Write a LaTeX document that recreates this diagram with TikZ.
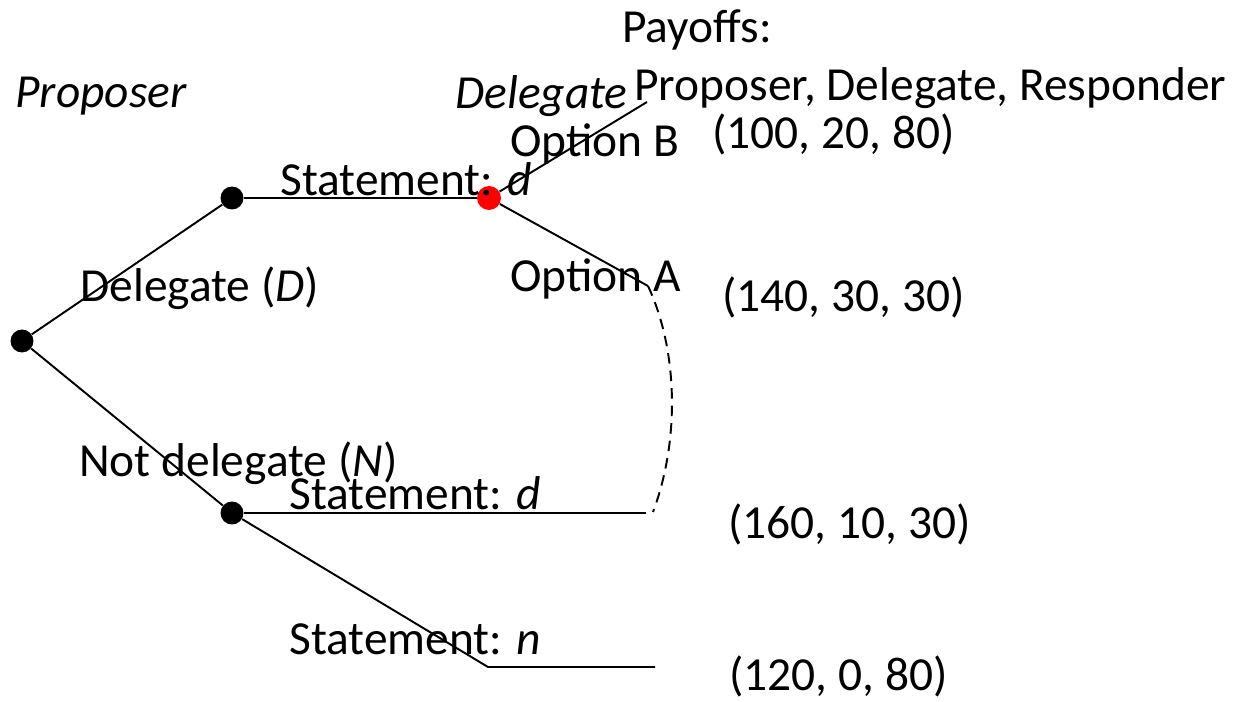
\documentclass[tikz,border=0pt]{standalone}
\usepackage{fontspec}
\setmainfont{Carlito}
\usepackage{tikz}
\usetikzlibrary{positioning,calc}

\begin{document}
\begin{tikzpicture}[x=0.02cm, y=-0.02cm,
    font=\fontsize{27}{32}\selectfont,
    dot/.style={circle, fill=black, inner sep=0pt, minimum size=0.46cm},
    reddot/.style={circle, fill=red, inner sep=0pt, minimum size=0.48cm},
    edge/.style={line width=1.1pt, draw=black},
    labl/.style={anchor=base west, inner sep=0pt}]

    \useasboundingbox (0,0) rectangle (1242,702);

    % decision nodes
    \node[dot]    (root)  at (22,341)  {};
    \node[dot]    (prop)  at (232,198) {};
    \node[reddot] (deleg) at (489,198) {};
    \node[dot]    (notd)  at (232,513) {};

    % ends of the branches
    \coordinate (optB)  at (647,102);
    \coordinate (optA)  at (648,286);
    \coordinate (stD)   at (646,513);
    \coordinate (infoE) at (653,512);
    \coordinate (stNb)  at (488,667);
    \coordinate (stN)   at (655,667);

    % === Branches ===
    \draw[edge] (root) -- (prop);
    \draw[edge] (root) -- (notd);
    \draw[edge] (prop) -- (deleg);
    \draw[edge] (deleg) -- (optB);
    \draw[edge] (deleg) -- (optA);
    \draw[edge] (notd) -- (stD);
    \draw[edge] (notd) -- (stNb) -- (stN);

    % information set
    \draw[line width=1.1pt, dash pattern=on 6pt off 4pt]
      (optA) .. controls (678,350) and (680,440) .. (infoE);

    % === Players ===
    \node[labl, font=\fontsize{27}{32}\selectfont\itshape] (pl1) at (15,108)  {Proposer};
    \node[labl, font=\fontsize{27}{32}\selectfont\itshape] (pl2) at (455,109) {Delegate};

    % === Actions ===
    \node[labl] (aD)  at (80,302)  {Delegate (\textit{D})};
    \node[labl] (aN)  at (79,477)  {Not delegate (\textit{N})};
    \node[labl] (sd1) at (280,196) {Statement: \textit{d}};
    \node[labl] (sd2) at (289,510) {Statement: \textit{d}};
    \node[labl] (sn)  at (289,655) {Statement: \textit{n}};
    \node[labl] (oB)  at (510,157) {Option B};
    \node[labl] (oA)  at (510,292) {Option A};

    % === Payoffs ===
    \node[labl] (pay)  at (622,43)  {Payoffs:};
    \node[labl] (who)  at (634,101) {Proposer, Delegate, Responder};
    \node[labl] (payB) at (712,149) {(100, 20, 80)};
    \node[labl] (payA) at (722,312) {(140, 30, 30)};
    \node[labl] (payD) at (728,539) {(160, 10, 30)};
    \node[labl] (payN) at (729,691) {(120, 0, 80)};

\end{tikzpicture}
\end{document}
